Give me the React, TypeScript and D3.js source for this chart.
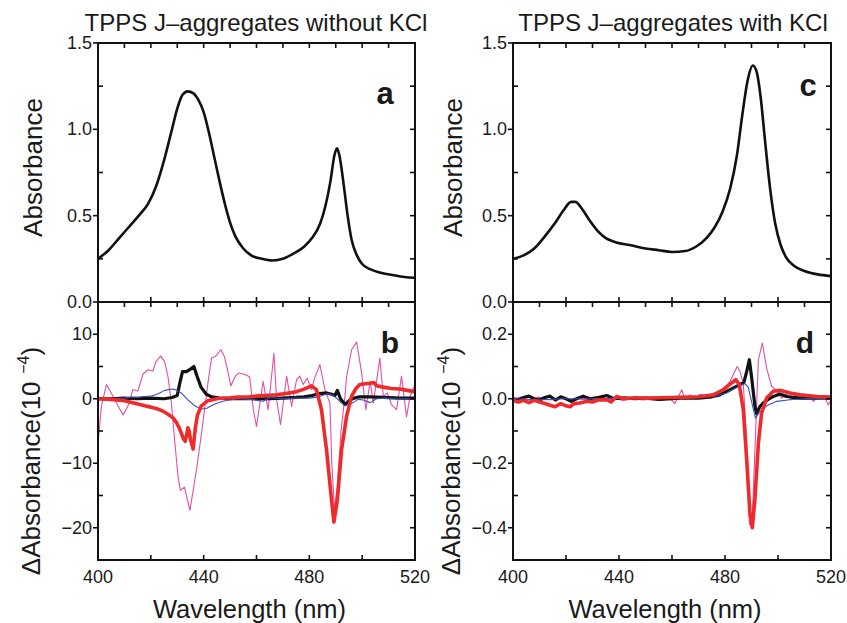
import React from "react";
import * as d3 from "d3";

type Pt = [number, number];

// ---------- tick labels / categories ----------
const wavelengthTicks = [400, 440, 480, 520];
const absMajor = [0, 0.5, 1.0, 1.5];
const absMinor = [0.25, 0.75, 1.25];
const absLabels = ["0.0", "0.5", "1.0", "1.5"];
const diffBMajor = [10, 0, -10, -20];
const diffBMinor = [5, -5, -15];
const diffBLabels = ["10", "0", "\u221210", "\u221220"];
const diffDMajor = [0.2, 0, -0.2, -0.4];
const diffDMinor = [0.1, -0.1, -0.3];
const diffDLabels = ["0.2", "0.0", "\u22120.2", "\u22120.4"];
const titleLeft = "TPPS J\u2013aggregates without KCl";
const titleRight = "TPPS J\u2013aggregates with KCl";

// ---------- panel a : absorbance without KCl ----------
const absNoKCl: Pt[] = [
  [400, 0.25], [404, 0.3], [408, 0.37], [412, 0.44], [416, 0.51], [419, 0.57], [422, 0.67],
  [425, 0.82], [428, 1.0], [430, 1.12], [432, 1.2], [434, 1.22], [436, 1.21], [438, 1.17],
  [440, 1.1], [442, 0.98], [444, 0.84], [446, 0.7], [448, 0.57], [450, 0.46], [452, 0.38],
  [455, 0.31], [458, 0.27], [462, 0.25], [466, 0.24], [470, 0.25], [474, 0.28], [478, 0.32],
  [481, 0.37], [484, 0.45], [486, 0.55], [488, 0.7], [489.5, 0.85], [490.5, 0.89],
  [491.5, 0.84], [493, 0.68], [494.5, 0.5], [496, 0.36], [498, 0.27], [500, 0.22],
  [503, 0.19], [507, 0.17], [512, 0.155], [516, 0.145], [520, 0.14],
];

// ---------- panel c : absorbance with KCl ----------
const absKCl: Pt[] = [
  [400, 0.25], [404, 0.27], [408, 0.31], [412, 0.38], [416, 0.46], [419, 0.53], [422, 0.58],
  [423.5, 0.58], [426, 0.54], [429, 0.47], [432, 0.41], [435, 0.37], [439, 0.345], [444, 0.33],
  [450, 0.31], [455, 0.3], [460, 0.29], [465, 0.295], [469, 0.32], [473, 0.37], [476, 0.43],
  [479, 0.52], [482, 0.66], [484.5, 0.85], [486.5, 1.08], [488.5, 1.28], [490.5, 1.37],
  [492, 1.33], [493.5, 1.18], [495, 0.95], [497, 0.66], [499, 0.45], [501, 0.33], [503, 0.26],
  [506, 0.21], [510, 0.18], [515, 0.16], [520, 0.15],
];

// ---------- panel b : difference spectra without KCl (10^-4) ----------
const diffNoKClBlack: Pt[] = [
  [400, 0], [405, 0], [410, 0.1], [415, 0], [420, 0.1], [425, 0], [428, 0.2], [430, 0.5],
  [431, 2.5], [432, 4.2], [433.5, 4.2], [435, 4.6], [436.3, 5.0], [437.5, 3.5], [439, 1.8],
  [441, 0.7], [443, 0.3], [446, 0.1], [450, 0], [455, 0], [460, 0], [465, 0], [470, 0.1],
  [475, 0.2], [478, 0.3], [481, 0.5], [484, 0.8], [486.5, 0.9], [488.5, 0.7], [489.7, 0.5],
  [490.6, 1.3], [491.8, 0], [493.5, -0.9], [495.4, -0.2], [497, 0.1], [499, 0.3], [503, 0.3],
  [508, 0.2], [514, 0.1], [520, 0.1],
];
const diffNoKClBlue: Pt[] = [
  [400, 0], [405, 0.05], [410, 0.1], [412.6, 0.25], [416, 0.3], [420, 0.4], [423, 0.8],
  [425.2, 1.3], [428.4, 1.5], [430, 1.3], [431.5, 0.9], [434, -0.15], [436.6, -1.1],
  [439.1, -1.6], [441, -1.5], [442.9, -1.1], [445, -0.7], [448, -0.3], [453, 0], [458, -0.1],
  [462.5, -0.4], [465, 0.2], [470, 0], [475, 0.1], [480, 0.1], [482.7, 0.25], [485, 0.5],
  [487, 0.8], [489, 0.5], [490.3, 0.1], [492, -0.6], [493.5, -1.1], [495, -0.9], [496.6, -0.6],
  [498.5, -0.1], [500.4, -0.2], [503, -0.6], [505.5, 0], [508, 0.1], [512, 0], [516, 0], [520, 0],
];
const diffNoKClRed: Pt[] = [
  [400, 0], [405, -0.1], [410, -0.3], [414, -0.7], [417.7, -1.1], [420, -1.3], [422.7, -1.6],
  [424.5, -1.9], [426.5, -2.4], [428.5, -3.0], [429.7, -3.7], [430.7, -4.5], [431.5, -5.3],
  [432.3, -6.2], [433, -6.6], [433.6, -5.5], [434, -4.5], [434.5, -5.0], [435, -6.3], [436, -7.8],
  [436.8, -4.7], [437.6, -2.6], [439.1, -1.1], [441.6, -0.3], [445.4, 0.05], [450, 0.15],
  [453, 0.25], [457.5, 0.3], [460.6, 0.45], [465, 0.55], [467.6, 0.6], [471, 0.8], [475.2, 1.1],
  [478, 1.5], [480.8, 2.0], [482.7, 1.4], [484.6, -1.7], [486.5, -7.9], [488.4, -15.7],
  [489.3, -19.1], [490.6, -15.7], [492.2, -7.9], [494.1, -2.7], [496, 0.4], [497.5, 1.5],
  [499.1, 2.2], [502.9, 2.4], [504.5, 2.5], [505.5, 2.0], [508, 1.8], [511, 1.6], [514.3, 1.5],
  [517, 1.3], [520, 1.1],
];
const diffNoKClPink: Pt[] = [
  [400, -6.9], [401.3, -1.1], [403.2, 2.2], [405, 0.9], [407, -0.7], [409.5, -2.5], [411.4, -1.1],
  [413.2, 1.4], [415.1, 1.2], [417, 3.8], [418.9, 4.5], [420.8, 4.3], [422, 5.8], [423.7, 6.6],
  [425.2, 5.8], [426.5, 3.4], [427.8, -0.7], [429, -6.4], [430.3, -12.1], [431.2, -14.2],
  [432.7, -13.7], [434.8, -17.3], [437.3, -11], [439.2, -5.3], [440.5, -1.2], [441.8, 3.0],
  [443, 6.3], [444.6, 6.6], [446.5, 7.6], [447.8, 6.6], [449, 4.5], [450.3, 2.0], [452, 3.5],
  [453.3, 4.0], [455.3, 3.8], [457.4, 3.4], [458.8, -1.7], [460, -4.3], [462.5, 2.7],
  [464.4, -1.7], [466.6, 7.1], [467.6, -0.1], [469.1, -4.0], [471.4, 3.5], [473.3, -1.2],
  [475.2, 3.0], [476.4, 3.5], [477.7, 2.2], [479.2, 3.2], [480.8, 1.4], [482, 3.2], [484, 5.3],
  [485.9, 1.4], [487.8, -0.7], [488.5, -10], [489.5, -17], [490.5, -14], [492, -5], [493.5, 0.5],
  [494.1, 3.4], [496, 7.6], [497.9, 8.8], [499.8, 4.0], [501.4, -1.7], [503, 2.7], [504.2, -0.7],
  [506.7, 6.3], [508, 0.3], [509.5, 0.9], [511.1, -0.9], [513, -1.7], [514.9, 3.5],
  [516.8, -2.8], [518.1, 0.3], [520, 2.2],
];

// ---------- panel d : difference spectra with KCl (10^-4) ----------
const diffKClBlack: Pt[] = [
  [400, 0], [402, -0.004], [404, 0.004], [406, 0.008], [408, 0], [410, -0.004], [412, 0.004],
  [414, 0.008], [416, -0.004], [418, 0.006], [420, 0], [422, -0.008], [424, 0], [426.5, 0.008],
  [429, 0], [432, 0.004], [435.4, 0.01], [438, 0], [442, 0.003], [446, 0], [450, 0.002],
  [455, -0.002], [460, 0], [465, 0.003], [470, 0.002], [475, 0.006], [478, 0.012],
  [481.9, 0.028], [485.6, 0.044], [487.1, 0.05], [488.2, 0.085], [489.2, 0.121], [490, 0.069],
  [491.3, -0.024], [491.9, -0.045], [493.2, -0.024], [495.1, -0.008], [498.2, 0.007],
  [500.7, 0.015], [503.2, 0.007], [508.3, 0.002], [514, 0.002], [520, 0.002],
];
const diffKClRed: Pt[] = [
  [400, -0.005], [402, -0.01], [404, -0.005], [406, -0.012], [408, -0.005], [410, -0.01],
  [412, -0.015], [414, -0.02], [415.9, -0.025], [418, -0.015], [420, -0.022], [421.5, -0.025],
  [423, -0.015], [425.3, -0.013], [428, -0.008], [430, -0.01], [432, -0.004], [435.4, -0.003],
  [437, -0.01], [439.1, 0.007], [442, 0], [446, 0.003], [450, 0.002], [455, 0.003], [460, 0.004],
  [465, 0.005], [470, 0.006], [475.6, 0.012], [479.3, 0.028], [482.5, 0.049], [484.1, 0.059],
  [485.4, 0.044], [486.9, -0.034], [488.2, -0.19], [489.4, -0.355], [490.3, -0.4],
  [491.3, -0.31], [492.6, -0.138], [493.8, -0.045], [495.7, 0.002], [498.2, 0.023],
  [500.7, 0.026], [504.5, 0.018], [508.3, 0.012], [514.6, 0.007], [520, 0.005],
];
const diffKClBlue: Pt[] = [
  [400, 0], [410, -0.003], [420, 0], [430, 0], [440, 0.002], [450, 0], [460, 0.002],
  [470, 0.004], [476, 0.008], [480.6, 0.018], [484.4, 0.036], [487.5, 0.047], [488.8, 0.035],
  [490, -0.008], [491.5, -0.06], [493.2, -0.039], [495.7, -0.022], [499.5, -0.008],
  [504.5, -0.003], [510, 0], [520, 0],
];
const diffKClPink: Pt[] = [
  [400, 0], [403, 0.005], [405.5, -0.005], [407.7, 0], [410, 0.005], [412, -0.003], [415, -0.003],
  [418, 0.005], [421, -0.005], [424, 0.003], [426.5, -0.003], [430.3, 0.002], [432.5, -0.002],
  [435.4, 0.008], [437, -0.003], [439.1, 0.002], [441, -0.005], [442.9, -0.003], [445, 0.003],
  [446.7, 0.002], [448.5, -0.004], [450.4, -0.003], [452.5, 0.004], [454.2, 0.002],
  [456, -0.004], [457.4, -0.003], [459, 0.003], [461.1, -0.015], [463.7, 0.028], [464.9, -0.003],
  [466.8, 0.012], [469.3, 0.002], [470.5, 0.014], [473.1, 0.007], [475.6, 0.007], [479.3, 0.028],
  [481.9, 0.054], [484.6, 0.1], [485.6, 0.085], [486.9, 0.049], [488.2, -0.14], [489.2, -0.39],
  [490.2, -0.39], [492.6, 0.121], [494.1, 0.173], [495.7, 0.095], [497.6, 0.038], [499.5, 0.026],
  [501.4, 0.002], [503.2, 0.015], [505.1, -0.003], [507, 0.012], [509.5, -0.003], [512, 0.007],
  [513.3, -0.008], [515.8, 0.009], [517.7, 0.002], [519, -0.019], [520, -0.003],
];

// ---------- layout / style (not data) ----------
const W = 847;
const H = 623;
const TOP = 43;
const MID = 302;
const BOT = 560;
const TICK = 5;
const FONT = "'Liberation Sans', Arial, Helvetica, sans-serif";
const BLACK = "#111";
const RED = "#ee2a2a";
const BLUE = "#3c4fb8";
const PINK = "#e050a8";

interface SeriesSpec {
  data: Pt[];
  color: string;
  width: number;
}

function YTicks({ y, x0, x1, majors, minors, labels }: any) {
  const all = [...majors, ...minors];
  return (
    <g>
      {majors.map((v: number, i: number) => (
        <g key={"M" + i}>
          <line x1={x0 - TICK} x2={x0} y1={y(v)} y2={y(v)} stroke={BLACK} strokeWidth={1.6} />
          <text
            x={x0 - 6}
            y={y(v)}
            textAnchor="end"
            dominantBaseline="central"
            fontFamily={FONT}
            fontSize={18}
            fill="#1a1a1a"
          >
            {labels[i]}
          </text>
        </g>
      ))}
      {minors.map((v: number, i: number) => (
        <line key={"m" + i} x1={x0} x2={x0 + TICK} y1={y(v)} y2={y(v)} stroke={BLACK} strokeWidth={1.6} />
      ))}
      {all.map((v: number, i: number) => (
        <line key={"r" + i} x1={x1 - TICK} x2={x1} y1={y(v)} y2={y(v)} stroke={BLACK} strokeWidth={1.6} />
      ))}
    </g>
  );
}

function XTicks({ x, yPos, values, dir }: any) {
  return (
    <g>
      {values.map((v: number, i: number) => (
        <line
          key={i}
          x1={x(v)}
          x2={x(v)}
          y1={yPos}
          y2={yPos + dir * TICK}
          stroke={BLACK}
          strokeWidth={1.6}
        />
      ))}
    </g>
  );
}

function Column({
  id,
  x0,
  x1,
  title,
  titleX,
  topSeries,
  bottomSeries,
  bottomDomain,
  bMajor,
  bMinor,
  bLabels,
  letterTop,
  letterBottom,
  letterTopPos,
  letterBottomPos,
  yTitleX,
}: any) {
  const x = d3.scaleLinear().domain([400, 520]).range([x0, x1]);
  const yA = d3.scaleLinear().domain([0, 1.5]).range([MID, TOP]);
  const yB = d3.scaleLinear().domain(bottomDomain).range([BOT, MID]);
  const topLine = d3
    .line<Pt>()
    .x((d) => x(d[0]))
    .y((d) => yA(d[1]))
    .curve(d3.curveMonotoneX);
  const botLine = d3
    .line<Pt>()
    .x((d) => x(d[0]))
    .y((d) => yB(d[1]))
    .curve(d3.curveLinear);

  return (
    <g>
      <defs>
        <clipPath id={id + "clipA"}>
          <rect x={x0} y={TOP} width={x1 - x0} height={MID - TOP} />
        </clipPath>
        <clipPath id={id + "clipB"}>
          <rect x={x0} y={MID} width={x1 - x0} height={BOT - MID} />
        </clipPath>
      </defs>
      {/* title */}
      <text x={titleX} y={31} textAnchor="middle" fontFamily={FONT} fontSize={24} fill="#1a1a1a">
        {title}
      </text>

      {/* top panel */}
      <g clipPath={`url(#${id}clipA)`}>
        {topSeries.map((s: SeriesSpec, i: number) => (
          <path key={i} d={topLine(s.data) || ""} fill="none" stroke={s.color} strokeWidth={s.width} strokeLinejoin="round" />
        ))}
      </g>
      {/* bottom panel */}
      <g clipPath={`url(#${id}clipB)`}>
        {bottomSeries.map((s: SeriesSpec, i: number) => (
          <path
            key={i}
            d={botLine(s.data) || ""}
            fill="none"
            stroke={s.color}
            strokeWidth={s.width}
            strokeLinejoin="round"
          />
        ))}
      </g>

      {/* frames */}
      <rect x={x0} y={TOP} width={x1 - x0} height={BOT - TOP} fill="none" stroke={BLACK} strokeWidth={2} />
      <line x1={x0} x2={x1} y1={MID} y2={MID} stroke={BLACK} strokeWidth={2} />

      {/* ticks */}
      <YTicks y={yA} x0={x0} x1={x1} majors={absMajor} minors={absMinor} labels={absLabels} />
      <YTicks y={yB} x0={x0} x1={x1} majors={bMajor} minors={bMinor} labels={bLabels} />
      <XTicks x={x} yPos={TOP} values={d3.range(410, 520, 10)} dir={1} />
      <XTicks x={x} yPos={MID} values={d3.range(420, 520, 20)} dir={-1} />
      <XTicks x={x} yPos={MID} values={d3.range(410, 520, 10)} dir={1} />
      <XTicks x={x} yPos={BOT} values={d3.range(420, 520, 20)} dir={-1} />

      {/* x tick labels */}
      {wavelengthTicks.map((v, i) => (
        <text key={i} x={x(v)} y={583} textAnchor="middle" fontFamily={FONT} fontSize={18} fill="#1a1a1a">
          {v}
        </text>
      ))}
      <text
        x={(x0 + x1) / 2 - 7}
        y={618}
        textAnchor="middle"
        fontFamily={FONT}
        fontSize={25.5}
        fill="#1a1a1a"
      >
        Wavelength (nm)
      </text>

      {/* y titles */}
      <text
        transform={`translate(${yTitleX},${(TOP + MID) / 2 - 5}) rotate(-90)`}
        textAnchor="middle"
        fontFamily={FONT}
        fontSize={26}
        fill="#1a1a1a"
      >
        Absorbance
      </text>
      <text
        transform={`translate(${yTitleX - 2},${(MID + BOT) / 2 + 30}) rotate(-90)`}
        textAnchor="middle"
        fontFamily={FONT}
        fontSize={26}
        fill="#1a1a1a"
      >
        {"\u0394Absorbance(10"}
        <tspan fontSize={16} dy={-11}>{" \u2009\u22124"}</tspan>
        <tspan dy={11}>)</tspan>
      </text>

      {/* panel letters */}
      <text x={letterTopPos[0]} y={letterTopPos[1]} textAnchor="middle" fontFamily={FONT} fontWeight="bold" fontSize={31} fill="#1a1a1a">
        {letterTop}
      </text>
      <text x={letterBottomPos[0]} y={letterBottomPos[1]} textAnchor="middle" fontFamily={FONT} fontWeight="bold" fontSize={30} fill="#1a1a1a">
        {letterBottom}
      </text>
    </g>
  );
}

export default function App() {
  return (
    <svg
      width={W}
      height={H}
      viewBox={`0 0 ${W} ${H}`}
      style={{ position: "absolute", left: 0, top: 0, background: "#fff" }}
    >
      <rect x={0} y={0} width={W} height={H} fill="#fff" />
      <Column
        id="L"
        x0={98}
        x1={415}
        title={titleLeft}
        titleX={256}
        topSeries={[{ data: absNoKCl, color: BLACK, width: 2.6 }]}
        bottomSeries={[
          { data: diffNoKClPink, color: PINK, width: 1.1 },
          { data: diffNoKClBlack, color: BLACK, width: 3.2 },
          { data: diffNoKClBlue, color: BLUE, width: 1.1 },
          { data: diffNoKClRed, color: RED, width: 3.6 },
        ]}
        bottomDomain={[-25, 15]}
        bMajor={diffBMajor}
        bMinor={diffBMinor}
        bLabels={diffBLabels}
        letterTop="a"
        letterBottom="b"
        letterTopPos={[385, 104]}
        letterBottomPos={[390, 353]}
        yTitleX={42}
      />
      <Column
        id="R"
        x0={513}
        x1={831}
        title={titleRight}
        titleX={673}
        topSeries={[{ data: absKCl, color: BLACK, width: 2.6 }]}
        bottomSeries={[
          { data: diffKClPink, color: PINK, width: 1.1 },
          { data: diffKClBlack, color: BLACK, width: 3.2 },
          { data: diffKClBlue, color: BLUE, width: 1.1 },
          { data: diffKClRed, color: RED, width: 3.6 },
        ]}
        bottomDomain={[-0.5, 0.3]}
        bMajor={diffDMajor}
        bMinor={diffDMinor}
        bLabels={diffDLabels}
        letterTop="c"
        letterBottom="d"
        letterTopPos={[808, 96]}
        letterBottomPos={[805, 353]}
        yTitleX={462}
      />
    </svg>
  );
}
